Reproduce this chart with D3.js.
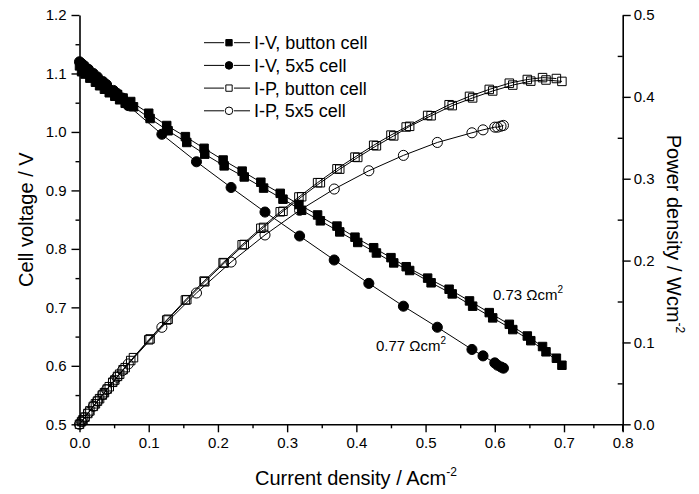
<!DOCTYPE html>
<html><head><meta charset="utf-8">
<script src="https://cdn.jsdelivr.net/npm/d3@7"></script>
<style>body{margin:0;background:#fff}svg{display:block}text{font-family:"Liberation Sans",Arial,sans-serif;fill:#000}</style>
</head><body>
<svg id="c" width="699" height="494"></svg>
<script>
// ---- data ----
const xTickValues = [0,0.1,0.2,0.3,0.4,0.5,0.6,0.7,0.8];
const xTickLabels = ["0.0","0.1","0.2","0.3","0.4","0.5","0.6","0.7","0.8"];
const vTickValues = [0.5,0.6,0.7,0.8,0.9,1.0,1.1,1.2];
const vTickLabels = ["0.5","0.6","0.7","0.8","0.9","1.0","1.1","1.2"];
const pTickValues = [0,0.1,0.2,0.3,0.4,0.5];
const pTickLabels = ["0.0","0.1","0.2","0.3","0.4","0.5"];
const legendLabels = ["I-V, button cell","I-V, 5x5 cell","I-P, button cell","I-P, 5x5 cell"];

// button cell, run A
const btnA_I = [0,0.005,0.012,0.02,0.026,0.033,0.04,0.048,0.055,0.063,0.074,0.1,0.126,0.153,0.18,0.2075,0.235,0.262,0.29,0.317,0.344,0.372,0.398,0.425,0.45,0.472,0.503,0.534,0.5635,0.592,0.621,0.647,0.669,0.689];
const btnA_V = [1.113,1.108,1.100,1.094,1.088,1.082,1.076,1.069,1.064,1.058,1.052,1.032,1.011,0.992,0.972,0.952,0.933,0.914,0.895,0.876,0.858,0.839,0.820,0.802,0.785,0.7695,0.750,0.731,0.711,0.691,0.671,0.651,0.633,0.613];
const btnA_P = [0,0.0055,0.0132,0.0219,0.0283,0.0357,0.0430,0.0513,0.0585,0.0667,0.0779,0.1032,0.1274,0.1518,0.1750,0.1975,0.2193,0.2395,0.2596,0.2777,0.2952,0.3121,0.3264,0.3409,0.3533,0.3632,0.3773,0.3904,0.4006,0.4091,0.4167,0.4212,0.4235,0.4224];
// button cell, run B
const btnB_I = [0.003,0.008,0.015,0.023,0.029,0.036,0.043,0.051,0.058,0.066,0.078,0.102,0.128,0.155,0.181,0.209,0.238,0.266,0.294,0.321,0.348,0.376,0.402,0.429,0.454,0.477,0.508,0.5385,0.568,0.597,0.626,0.652,0.674,0.697];
const btnB_V = [1.103,1.099,1.092,1.085,1.079,1.073,1.067,1.061,1.055,1.049,1.043,1.023,1.002,0.982,0.962,0.942,0.923,0.904,0.885,0.866,0.848,0.829,0.811,0.793,0.776,0.763,0.742,0.723,0.702,0.682,0.662,0.643,0.624,0.601];
const btnB_P = [0.0033,0.0088,0.0164,0.0250,0.0313,0.0386,0.0459,0.0541,0.0612,0.0692,0.0814,0.1043,0.1283,0.1522,0.1741,0.1969,0.2197,0.2405,0.2602,0.2780,0.2951,0.3117,0.3260,0.3402,0.3523,0.3640,0.3769,0.3893,0.3987,0.4072,0.4144,0.4192,0.4206,0.4189];
// 5x5 cell
const cell_I = [0,0.003,0.007,0.013,0.02,0.026,0.034,0.039,0.049,0.054,0.062,0.0705,0.119,0.169,0.219,0.268,0.318,0.368,0.418,0.468,0.517,0.567,0.583,0.600,0.604,0.609,0.6125];
const cell_V = [1.120,1.117,1.113,1.107,1.100,1.094,1.086,1.081,1.071,1.066,1.058,1.045,0.996,0.949,0.905,0.863,0.822,0.781,0.741,0.702,0.666,0.628,0.617,0.605,0.601,0.598,0.596];
const cell_P = [0,0.0034,0.0078,0.0144,0.0220,0.0284,0.0369,0.0422,0.0525,0.0576,0.0656,0.0737,0.1185,0.1604,0.1982,0.2313,0.2614,0.2874,0.3097,0.3285,0.3443,0.3561,0.3597,0.3630,0.3630,0.3642,0.3651];

// ---- chart ----
const svg = d3.select("#c");
const L = 79.5, R = 622.7, T = 15, B = 424.3;
const x = d3.scaleLinear().domain([0,0.7,0.8]).range([L,564,R]);
const yV = d3.scaleLinear().domain([0.5,1.2]).range([B,T]);
const yP = d3.scaleLinear().domain([0,0.5]).range([B,T]);

const fs = 15;
// x axis
const gx = svg.append("g").attr("transform",`translate(0,${B})`)
  .call(d3.axisBottom(x).tickValues(xTickValues).tickFormat((d,i)=>xTickLabels[i]).tickSize(8).tickSizeOuter(0).tickPadding(5));
svg.append("g").attr("transform",`translate(0,${B})`)
  .call(d3.axisBottom(x).tickValues(d3.range(0.05,0.8,0.1)).tickFormat("").tickSize(4).tickSizeOuter(0))
  .select(".domain").remove();
// left axis
svg.append("g").attr("transform",`translate(${L},0)`)
  .call(d3.axisLeft(yV).tickValues(vTickValues).tickFormat((d,i)=>vTickLabels[i]).tickSize(8).tickSizeOuter(0).tickPadding(5));
svg.append("g").attr("transform",`translate(${L},0)`)
  .call(d3.axisLeft(yV).tickValues(d3.range(0.55,1.2,0.1)).tickFormat("").tickSize(4).tickSizeOuter(0))
  .select(".domain").remove();
// right axis
svg.append("g").attr("transform",`translate(${R},0)`)
  .call(d3.axisRight(yP).tickValues(pTickValues).tickFormat((d,i)=>pTickLabels[i]).tickSize(8).tickSizeOuter(0).tickPadding(3));
svg.append("g").attr("transform",`translate(${R},0)`)
  .call(d3.axisRight(yP).tickValues(d3.range(0.05,0.5,0.1)).tickFormat("").tickSize(-5).tickSizeOuter(0))
  .select(".domain").remove();
svg.selectAll(".domain").attr("stroke","#000").attr("stroke-width",1.6);
svg.selectAll(".tick line").attr("stroke","#000").attr("stroke-width",1.4);
svg.selectAll(".tick text").attr("font-size",fs).attr("font-family","Liberation Sans, Arial, sans-serif").attr("fill","#000");
// extend right axis slightly below
svg.append("line").attr("x1",R).attr("x2",R).attr("y1",B).attr("y2",B+7).attr("stroke","#000").attr("stroke-width",1.4);

// axis titles
const t1 = svg.append("text").attr("x",255).attr("y",485).attr("font-size",20);
t1.append("tspan").text("Current density / Acm");
t1.append("tspan").attr("font-size",12).attr("dy",-9).text("-2");
svg.append("text").attr("transform",`translate(33,${(T+B)/2}) rotate(-90)`).attr("text-anchor","middle").attr("font-size",20).text("Cell voltage / V");
const t3 = svg.append("text").attr("transform",`translate(667,234) rotate(90)`).attr("text-anchor","middle").attr("font-size",20);
t3.append("tspan").text("Power density / Wcm");
t3.append("tspan").attr("font-size",12).attr("dy",-9).text("-2");

// series
function series(I, Y, yScale, shape, filled){
  const pts = I.map((d,i)=>[x(d), yScale(Y[i])]);
  svg.append("path").attr("d", d3.line()(pts)).attr("fill","none").attr("stroke","#000").attr("stroke-width",1);
  const sym = d3.symbol().type(shape==="sq"?d3.symbolSquare:d3.symbolCircle).size(shape==="sq"?72:80);
  svg.append("g").selectAll("path").data(pts).join("path")
    .attr("transform",d=>`translate(${d[0]},${d[1]})`).attr("d",sym)
    .attr("fill",filled?"#000":"none").attr("stroke","#000").attr("stroke-width",1);
}
series(btnA_I, btnA_P, yP, "sq", false);
series(btnB_I, btnB_P, yP, "sq", false);
series(cell_I, cell_P, yP, "ci", false);
series(btnA_I, btnA_V, yV, "sq", true);
series(btnB_I, btnB_V, yV, "sq", true);
series(cell_I, cell_V, yV, "ci", true);

// annotations
const a1 = svg.append("text").attr("x",493).attr("y",300).attr("font-size",fs);
a1.append("tspan").text("0.73 Ωcm");
a1.append("tspan").attr("font-size",10).attr("dy",-7).text("2");
const a2 = svg.append("text").attr("x",376).attr("y",351).attr("font-size",fs);
a2.append("tspan").text("0.77 Ωcm");
a2.append("tspan").attr("font-size",10).attr("dy",-7).text("2");

// legend
const shapes = [["sq",true],["ci",true],["sq",false],["ci",false]];
legendLabels.forEach((lab,i)=>{
  const cy = 42.7 + i*22.7;
  const g = svg.append("g");
  g.append("line").attr("x1",204).attr("x2",224).attr("y1",cy).attr("y2",cy).attr("stroke","#000").attr("stroke-width",1);
  g.append("line").attr("x1",234).attr("x2",250).attr("y1",cy).attr("y2",cy).attr("stroke","#000").attr("stroke-width",1);
  const sym = d3.symbol().type(shapes[i][0]==="sq"?d3.symbolSquare:d3.symbolCircle).size(shapes[i][0]==="sq"?40:45);
  g.append("path").attr("transform",`translate(229,${cy})`).attr("d",sym)
    .attr("fill",shapes[i][1]?"#000":"#fff").attr("stroke","#000").attr("stroke-width",1);
  g.append("text").attr("x",254).attr("y",cy+6.5).attr("font-size",18).text(lab);
});
</script>
</body></html>
